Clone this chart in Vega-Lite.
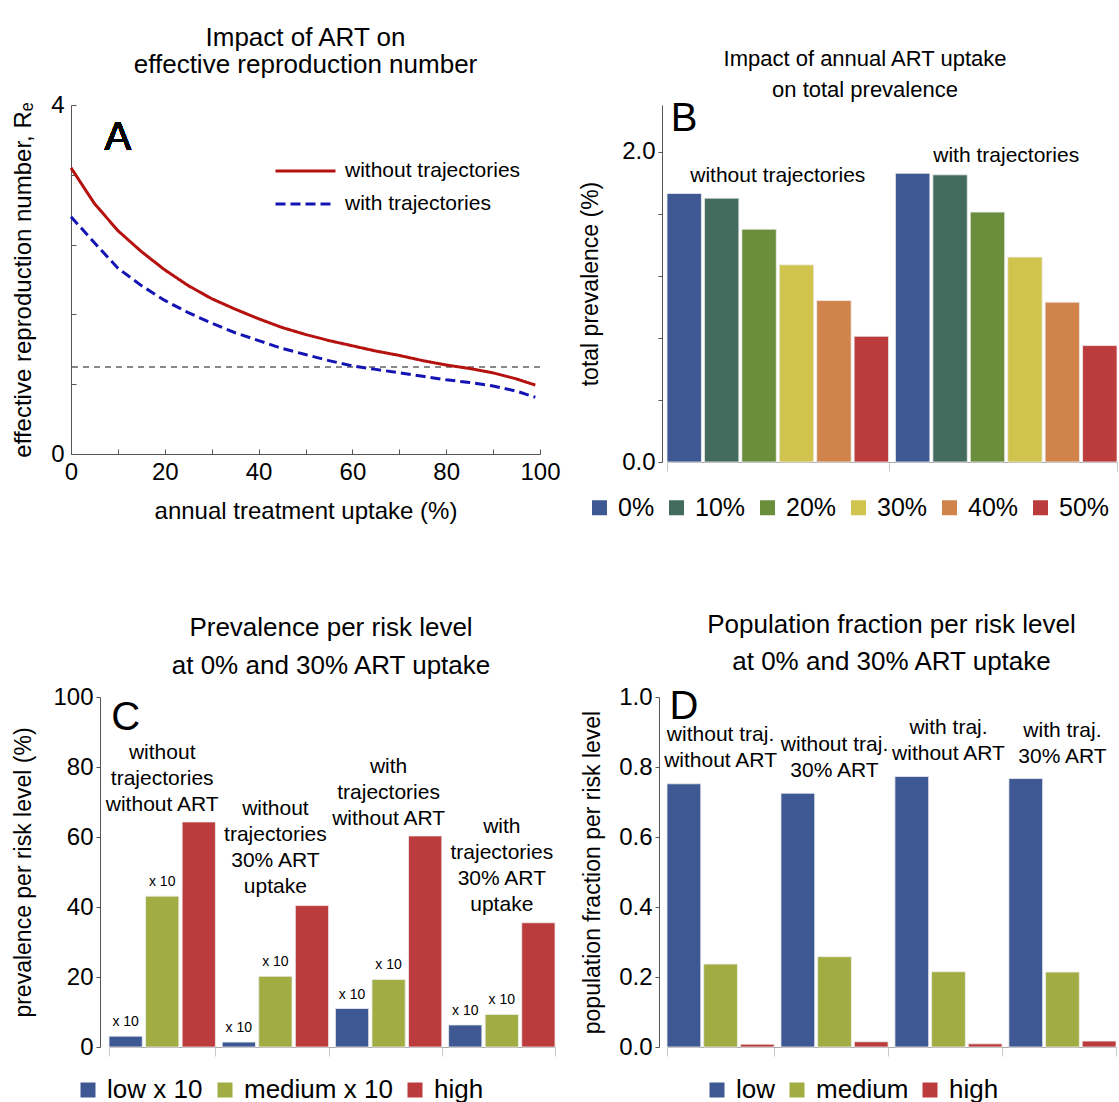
{
  "$schema": "https://vega.github.io/schema/vega-lite/v6.json",
  "padding": {"left": 11, "top": 25, "right": 0, "bottom": 0},
  "config": {
    "font": "Liberation Sans",
    "view": {"stroke": null},
    "axis": {"domainColor": "#555", "tickColor": "#555", "labelColor": "#000", "titleColor": "#000", "labelFontSize": 24, "titleFontSize": 23, "titleFontWeight": "normal", "grid": false, "labelFont": "Liberation Sans", "titleFont": "Liberation Sans"},
    "title": {"fontSize": 22, "fontWeight": "normal", "color": "#000", "anchor": "middle", "font": "Liberation Sans"},
    "legend": {"labelFontSize": 26, "labelColor": "#000", "labelFont": "Liberation Sans"},
    "text": {"font": "Liberation Sans", "color": "#000"}
  },
  "resolve": {"scale": {"x": "independent", "y": "independent", "color": "independent", "xOffset": "independent", "strokeDash": "independent"}, "legend": {"color": "independent", "strokeDash": "independent"}},
  "columns": 2,
  "spacing": {"row": 89, "column": 18},
  "concat": [
    {
      "width": 469,
      "height": 349,
      "title": {"text": ["Impact of ART on", "effective reproduction number"], "fontSize": 26, "lineHeight": 27, "offset": 15},
      "data": {"values": [
        {"uptake": 0, "Re": 3.28, "model": "without trajectories"},
        {"uptake": 5, "Re": 2.87, "model": "without trajectories"},
        {"uptake": 10, "Re": 2.56, "model": "without trajectories"},
        {"uptake": 15, "Re": 2.32, "model": "without trajectories"},
        {"uptake": 20, "Re": 2.11, "model": "without trajectories"},
        {"uptake": 25, "Re": 1.93, "model": "without trajectories"},
        {"uptake": 30, "Re": 1.78, "model": "without trajectories"},
        {"uptake": 35, "Re": 1.66, "model": "without trajectories"},
        {"uptake": 40, "Re": 1.55, "model": "without trajectories"},
        {"uptake": 45, "Re": 1.45, "model": "without trajectories"},
        {"uptake": 50, "Re": 1.37, "model": "without trajectories"},
        {"uptake": 55, "Re": 1.30, "model": "without trajectories"},
        {"uptake": 60, "Re": 1.24, "model": "without trajectories"},
        {"uptake": 65, "Re": 1.18, "model": "without trajectories"},
        {"uptake": 70, "Re": 1.13, "model": "without trajectories"},
        {"uptake": 75, "Re": 1.07, "model": "without trajectories"},
        {"uptake": 80, "Re": 1.02, "model": "without trajectories"},
        {"uptake": 85, "Re": 0.98, "model": "without trajectories"},
        {"uptake": 90, "Re": 0.93, "model": "without trajectories"},
        {"uptake": 95, "Re": 0.86, "model": "without trajectories"},
        {"uptake": 99, "Re": 0.79, "model": "without trajectories"},
        {"uptake": 0, "Re": 2.72, "model": "with trajectories"},
        {"uptake": 5, "Re": 2.42, "model": "with trajectories"},
        {"uptake": 10, "Re": 2.13, "model": "with trajectories"},
        {"uptake": 15, "Re": 1.93, "model": "with trajectories"},
        {"uptake": 20, "Re": 1.76, "model": "with trajectories"},
        {"uptake": 25, "Re": 1.62, "model": "with trajectories"},
        {"uptake": 30, "Re": 1.50, "model": "with trajectories"},
        {"uptake": 35, "Re": 1.39, "model": "with trajectories"},
        {"uptake": 40, "Re": 1.30, "model": "with trajectories"},
        {"uptake": 45, "Re": 1.21, "model": "with trajectories"},
        {"uptake": 50, "Re": 1.14, "model": "with trajectories"},
        {"uptake": 55, "Re": 1.07, "model": "with trajectories"},
        {"uptake": 60, "Re": 1.01, "model": "with trajectories"},
        {"uptake": 65, "Re": 0.97, "model": "with trajectories"},
        {"uptake": 70, "Re": 0.93, "model": "with trajectories"},
        {"uptake": 75, "Re": 0.89, "model": "with trajectories"},
        {"uptake": 80, "Re": 0.85, "model": "with trajectories"},
        {"uptake": 85, "Re": 0.82, "model": "with trajectories"},
        {"uptake": 90, "Re": 0.78, "model": "with trajectories"},
        {"uptake": 95, "Re": 0.72, "model": "with trajectories"},
        {"uptake": 99, "Re": 0.65, "model": "with trajectories"}
      ]},
      "layer": [
        {
          "mark": {"type": "rule", "color": "#888", "strokeDash": [6, 5], "strokeWidth": 1.3},
          "encoding": {"y": {"datum": 1, "type": "quantitative"}}
        },
        {
          "mark": {"type": "line", "strokeWidth": 3},
          "encoding": {
            "x": {"field": "uptake", "type": "quantitative", "title": "annual treatment uptake (%)",
              "scale": {"domain": [0, 100], "nice": false},
              "axis": {"values": [0,5,10,15,20,25,30,35,40,45,50,55,60,65,70,75,80,85,90,95,100], "labelExpr": "datum.value % 20 === 0 ? format(datum.value, 'd') : ''", "tickSize": -5, "labelPadding": 11, "titlePadding": 15, "titleFontSize": 24, "labelFlush": false, "labelOverlap": false}},
            "y": {"field": "Re", "type": "quantitative", "title": "effective reproduction number, Rₑ",
              "scale": {"domain": [0, 4], "nice": false},
              "axis": {"values": [0,0.2,0.4,0.6,0.8,1,1.2,1.4,1.6,1.8,2,2.2,2.4,2.6,2.8,3,3.2,3.4,3.6,3.8,4], "labelExpr": "abs(datum.value - round(datum.value)) < 0.001 ? format(datum.value, 'd') : ''", "tickSize": -5, "labelPadding": 12, "titlePadding": 15, "titleFontSize": 24, "labelOverlap": false}},
            "color": {"field": "model", "type": "nominal",
              "scale": {"domain": ["without trajectories", "with trajectories"], "range": ["#b5120f", "#1414b4"]},
              "legend": {"title": null, "orient": "none", "legendX": 203, "legendY": 55, "symbolType": "stroke", "symbolSize": 3600, "symbolStrokeWidth": 3, "clipHeight": 22, "rowPadding": 11, "labelFontSize": 21, "labelOffset": 8, "labelLimit": 400}},
            "strokeDash": {"field": "model", "type": "nominal",
              "scale": {"domain": ["without trajectories", "with trajectories"], "range": [[1, 0], [10, 5]]},
              "legend": {"title": null, "orient": "none", "legendX": 203, "legendY": 55, "symbolType": "stroke", "symbolSize": 3600, "symbolStrokeWidth": 3, "clipHeight": 22, "rowPadding": 11, "labelFontSize": 21, "labelOffset": 8, "labelLimit": 400}}
          }
        },
        {
          "mark": {"type": "text", "fontSize": 40},
          "encoding": {"x": {"datum": 10.0, "type": "quantitative"}, "y": {"datum": 3.62, "type": "quantitative"}, "text": {"value": "A"}}
        }
      ]
    },
    {
      "width": 450,
      "height": 357,
      "title": {"text": ["Impact of annual ART uptake", "on total prevalence"], "fontSize": 22, "lineHeight": 31, "offset": -3, "dx": -27},
      "data": {"values": [
        {"traj": "without trajectories", "uptake": "0%", "prev": 1.73},
        {"traj": "without trajectories", "uptake": "10%", "prev": 1.70},
        {"traj": "without trajectories", "uptake": "20%", "prev": 1.50},
        {"traj": "without trajectories", "uptake": "30%", "prev": 1.27},
        {"traj": "without trajectories", "uptake": "40%", "prev": 1.04},
        {"traj": "without trajectories", "uptake": "50%", "prev": 0.81},
        {"traj": "with trajectories", "uptake": "0%", "prev": 1.86},
        {"traj": "with trajectories", "uptake": "10%", "prev": 1.85},
        {"traj": "with trajectories", "uptake": "20%", "prev": 1.61},
        {"traj": "with trajectories", "uptake": "30%", "prev": 1.32},
        {"traj": "with trajectories", "uptake": "40%", "prev": 1.03},
        {"traj": "with trajectories", "uptake": "50%", "prev": 0.75}
      ]},
      "layer": [
        {
          "mark": {"type": "bar", "stroke": "#eeeeee", "strokeWidth": 0.8},
          "encoding": {
            "x": {"field": "traj", "type": "nominal", "scale": {"domain": ["without trajectories", "with trajectories"], "paddingInner": 0.03, "paddingOuter": 0},
              "axis": {"title": null, "labels": false, "domainColor": "#aaa", "tickColor": "#c8c8c8", "tickBand": "extent", "tickSize": 9}},
            "xOffset": {"field": "uptake", "type": "nominal", "scale": {"domain": ["0%", "10%", "20%", "30%", "40%", "50%"], "paddingInner": 0.08, "paddingOuter": 0}},
            "y": {"field": "prev", "type": "quantitative", "title": "total prevalence (%)", "scale": {"domain": [0, 2.3], "nice": false},
              "axis": {"values": [0,0.1,0.2,0.3,0.4,0.5,0.6,0.7,0.8,0.9,1,1.1,1.2,1.3,1.4,1.5,1.6,1.7,1.8,1.9,2,2.1,2.2,2.3], "labelExpr": "abs(datum.value*2 - round(datum.value*2)) < 0.001 ? format(datum.value, '.1f') : ''", "offset": 5, "tickSize": 4, "labelPadding": 3, "titlePadding": 19, "labelOverlap": false}},
            "color": {"field": "uptake", "type": "nominal",
              "scale": {"domain": ["0%", "10%", "20%", "30%", "40%", "50%"], "range": ["#3d5893", "#436c5f", "#6a8e3c", "#d0c34e", "#d0844b", "#bc3b3c"]},
              "legend": {"title": null, "orient": "none", "direction": "horizontal", "columns": 6, "legendX": -80, "legendY": 390, "symbolType": "square", "symbolSize": 225, "symbolStrokeWidth": 0, "labelFontSize": 25, "labelOffset": 6, "columnPadding": 9}}
          }
        },
        {
          "data": {"values": [
            {"traj": "without trajectories", "y": 1.84, "label": "without trajectories"},
            {"traj": "with trajectories", "y": 1.97, "label": "with trajectories"}
          ]},
          "mark": {"type": "text", "fontSize": 21},
          "encoding": {"x": {"field": "traj", "type": "nominal"}, "y": {"field": "y", "type": "quantitative"}, "text": {"field": "label"}}
        },
        {
          "data": {"values": [{"traj": "without trajectories", "uptake": "0%", "y": 2.21, "t": "B"}]},
          "mark": {"type": "text", "fontSize": 40},
          "encoding": {"x": {"field": "traj", "type": "nominal"}, "xOffset": {"field": "uptake", "type": "nominal"}, "y": {"field": "y", "type": "quantitative"}, "text": {"field": "t"}}
        }
      ]
    },
    {
      "width": 484,
      "height": 350,
      "title": {"text": ["Prevalence per risk level", "at 0% and 30% ART uptake"], "fontSize": 26, "lineHeight": 38, "offset": 6, "dx": 18},
      "data": {"values": [
        {"grp": "g1", "risk": "low x 10", "v": 3.1},
        {"grp": "g1", "risk": "medium x 10", "v": 43.1},
        {"grp": "g1", "risk": "high", "v": 64.3},
        {"grp": "g2", "risk": "low x 10", "v": 1.4},
        {"grp": "g2", "risk": "medium x 10", "v": 20.2},
        {"grp": "g2", "risk": "high", "v": 40.4},
        {"grp": "g3", "risk": "low x 10", "v": 11.0},
        {"grp": "g3", "risk": "medium x 10", "v": 19.3},
        {"grp": "g3", "risk": "high", "v": 60.3},
        {"grp": "g4", "risk": "low x 10", "v": 6.3},
        {"grp": "g4", "risk": "medium x 10", "v": 9.3},
        {"grp": "g4", "risk": "high", "v": 35.5}
      ]},
      "layer": [
        {
          "mark": {"type": "bar", "stroke": "#eeeeee", "strokeWidth": 0.8},
          "encoding": {
            "x": {"field": "grp", "type": "nominal", "scale": {"domain": ["g1", "g2", "g3", "g4"], "range": [38, 484], "paddingInner": 0.06, "paddingOuter": 0},
              "axis": {"title": null, "labels": false, "domainColor": "#aaa", "tickColor": "#c8c8c8", "tickBand": "extent", "tickSize": 9}},
            "xOffset": {"field": "risk", "type": "nominal", "scale": {"domain": ["low x 10", "medium x 10", "high"], "paddingInner": 0.09, "paddingOuter": 0}},
            "y": {"field": "v", "type": "quantitative", "title": "prevalence per risk level (%)", "scale": {"domain": [0, 100], "nice": false},
              "axis": {"values": [0,5,10,15,20,25,30,35,40,45,50,55,60,65,70,75,80,85,90,95,100], "labelExpr": "datum.value % 20 === 0 ? format(datum.value, 'd') : ''", "offset": -29, "tickSize": 4, "labelPadding": 3, "titlePadding": 17, "labelOverlap": false}},
            "color": {"field": "risk", "type": "nominal",
              "scale": {"domain": ["low x 10", "medium x 10", "high"], "range": ["#3d5893", "#a1ad42", "#bc3b3c"]},
              "legend": {"title": null, "orient": "none", "direction": "horizontal", "columns": 3, "legendX": 4, "legendY": 380, "symbolType": "square", "symbolSize": 225, "symbolStrokeWidth": 0, "labelOffset": 6, "columnPadding": 9}}
          }
        },
        {
          "transform": [{"filter": "datum.risk !== 'high'"}],
          "mark": {"type": "text", "fontSize": 14, "dy": -14},
          "encoding": {"x": {"field": "grp", "type": "nominal"}, "xOffset": {"field": "risk", "type": "nominal"}, "y": {"field": "v", "type": "quantitative"}, "text": {"value": "x 10"}}
        },
        {
          "data": {"values": [
            {"grp": "g1", "y": 84.0, "label": "without\ntrajectories\nwithout ART"},
            {"grp": "g2", "y": 68.0, "label": "without\ntrajectories\n30% ART\nuptake"},
            {"grp": "g3", "y": 80.0, "label": "with\ntrajectories\nwithout ART"},
            {"grp": "g4", "y": 62.9, "label": "with\ntrajectories\n30% ART\nuptake"}
          ]},
          "mark": {"type": "text", "fontSize": 21, "lineHeight": 26, "lineBreak": "\n", "baseline": "middle"},
          "encoding": {"x": {"field": "grp", "type": "nominal"}, "y": {"field": "y", "type": "quantitative"}, "text": {"field": "label"}}
        },
        {
          "data": {"values": [{"grp": "g1", "risk": "low x 10", "y": 94.0, "t": "C"}]},
          "mark": {"type": "text", "fontSize": 40},
          "encoding": {"x": {"field": "grp", "type": "nominal"}, "xOffset": {"field": "risk", "type": "nominal"}, "y": {"field": "y", "type": "quantitative"}, "text": {"field": "t"}}
        }
      ]
    },
    {
      "width": 449,
      "height": 350,
      "title": {"text": ["Population fraction per risk level", "at 0% and 30% ART uptake"], "fontSize": 26, "lineHeight": 37, "offset": 10},
      "data": {"values": [
        {"grp": "g1", "risk": "low", "v": 0.752},
        {"grp": "g1", "risk": "medium", "v": 0.237},
        {"grp": "g1", "risk": "high", "v": 0.008},
        {"grp": "g2", "risk": "low", "v": 0.725},
        {"grp": "g2", "risk": "medium", "v": 0.258},
        {"grp": "g2", "risk": "high", "v": 0.015},
        {"grp": "g3", "risk": "low", "v": 0.773},
        {"grp": "g3", "risk": "medium", "v": 0.215},
        {"grp": "g3", "risk": "high", "v": 0.009},
        {"grp": "g4", "risk": "low", "v": 0.767},
        {"grp": "g4", "risk": "medium", "v": 0.214},
        {"grp": "g4", "risk": "high", "v": 0.017}
      ]},
      "layer": [
        {
          "mark": {"type": "bar", "stroke": "#eeeeee", "strokeWidth": 0.8},
          "encoding": {
            "x": {"field": "grp", "type": "nominal", "scale": {"domain": ["g1", "g2", "g3", "g4"], "paddingInner": 0.06, "paddingOuter": 0},
              "axis": {"title": null, "labels": false, "domainColor": "#aaa", "tickColor": "#c8c8c8", "tickBand": "extent", "tickSize": 9}},
            "xOffset": {"field": "risk", "type": "nominal", "scale": {"domain": ["low", "medium", "high"], "paddingInner": 0.08, "paddingOuter": 0}},
            "y": {"field": "v", "type": "quantitative", "title": "population fraction per risk level", "scale": {"domain": [0, 1], "nice": false},
              "axis": {"values": [0,0.05,0.1,0.15,0.2,0.25,0.3,0.35,0.4,0.45,0.5,0.55,0.6,0.65,0.7,0.75,0.8,0.85,0.9,0.95,1], "labelExpr": "abs(datum.value*5 - round(datum.value*5)) < 0.001 ? format(datum.value, '.1f') : ''", "offset": 8, "tickSize": 4, "labelPadding": 3, "titlePadding": 14, "labelOverlap": false}},
            "color": {"field": "risk", "type": "nominal",
              "scale": {"domain": ["low", "medium", "high"], "range": ["#3d5893", "#a1ad42", "#bc3b3c"]},
              "legend": {"title": null, "orient": "none", "direction": "horizontal", "columns": 3, "legendX": 37, "legendY": 380, "symbolType": "square", "symbolSize": 225, "symbolStrokeWidth": 0, "labelOffset": 6, "columnPadding": 8}}
          }
        },
        {
          "data": {"values": [
            {"grp": "g1", "y": 0.891, "label": "without traj.\nwithout ART"},
            {"grp": "g2", "y": 0.863, "label": "without traj.\n30% ART"},
            {"grp": "g3", "y": 0.911, "label": "with traj.\nwithout ART"},
            {"grp": "g4", "y": 0.903, "label": "with traj.\n30% ART"}
          ]},
          "mark": {"type": "text", "fontSize": 21, "lineHeight": 26, "lineBreak": "\n", "baseline": "middle"},
          "encoding": {"x": {"field": "grp", "type": "nominal"}, "y": {"field": "y", "type": "quantitative"}, "text": {"field": "label"}}
        },
        {
          "data": {"values": [{"grp": "g1", "risk": "low", "y": 0.971, "t": "D"}]},
          "mark": {"type": "text", "fontSize": 40},
          "encoding": {"x": {"field": "grp", "type": "nominal"}, "xOffset": {"field": "risk", "type": "nominal"}, "y": {"field": "y", "type": "quantitative"}, "text": {"field": "t"}}
        }
      ]
    }
  ]
}
